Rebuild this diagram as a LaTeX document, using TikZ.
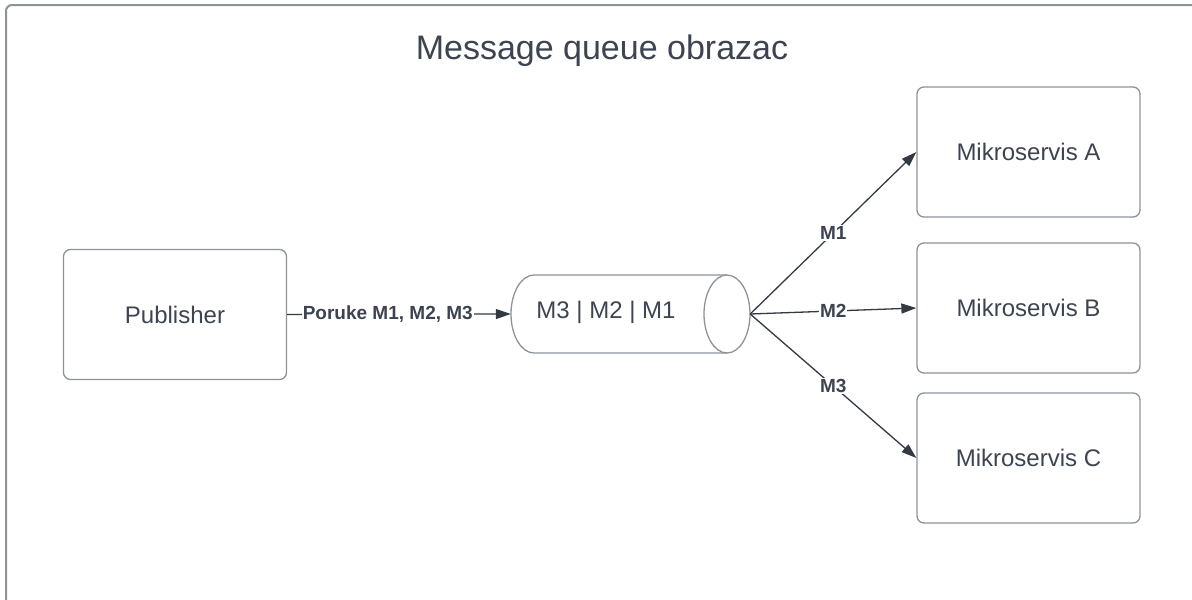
\documentclass[tikz,border=0pt]{standalone}
\usepackage{fontspec}
\setmainfont{Liberation Sans}
\usepackage{tikz}
\usetikzlibrary{arrows.meta}
\definecolor{txtgray}{HTML}{3D4450}
\definecolor{boxgray}{HTML}{8E9399}
\definecolor{arrgray}{HTML}{333A44}

\begin{document}
\begin{tikzpicture}[x=1pt, y=1pt,
  every node/.style={text=txtgray, font=\fontsize{24}{28}\selectfont},
  box/.style={draw=boxgray, line width=1.3pt, rounded corners=7pt, minimum width=223pt, minimum height=130pt},
  link/.style={draw=arrgray, line width=1.3pt, -{Triangle[length=15pt,width=10pt]}},
  lbl/.style={fill=white, inner sep=1pt, font=\bfseries\fontsize{19}{22}\selectfont}]
\useasboundingbox (0,0) rectangle (1192,-600);
\begin{scope}
\clip (0,0) rectangle (1192,-600);
\draw[boxgray, line width=2pt, rounded corners=6pt] (6,-5) rectangle (1260,-660);
\end{scope}
\node (title) at (602,-51) {\fontsize{34}{40}\selectfont Message queue obrazac};
\node[box] (pub) at (175,-314.5) {Publisher};
% queue drawn as a cylinder lying on its side
\node[minimum width=239pt, minimum height=78pt, inner sep=0pt] (queue) at (630.5,-314) {};
\draw[boxgray, line width=1.3pt] (727,-275) -- (534,-275) arc[start angle=90, end angle=270, x radius=23, y radius=39] -- (727,-353);
\draw[boxgray, line width=1.3pt] (727,-314) ellipse [x radius=23, y radius=39];
\node (qtext) at (606,-312) {M3 | M2 | M1};
\node[box] (msA) at (1028.5,-152) {Mikroservis A};
\node[box] (msB) at (1028.5,-308) {Mikroservis B};
\node[box] (msC) at (1028.5,-458) {Mikroservis C};
\draw[link] (pub.east) -- node[lbl, pos=0.45] {Poruke M1, M2, M3} (queue.west);
\draw[link] (queue.east) -- node[lbl] {M1} (msA.west);
\draw[link] (queue.east) -- node[lbl] {M2} (msB.west);
\draw[link] (queue.east) -- node[lbl] {M3} (msC.west);
\end{tikzpicture}
\end{document}
